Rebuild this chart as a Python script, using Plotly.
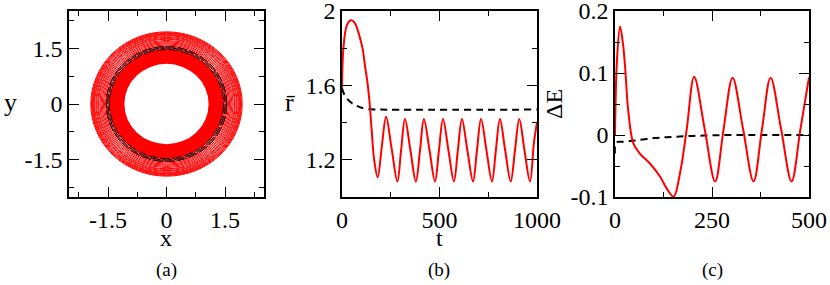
import plotly.graph_objects as go

# ---- panel (a): trajectory in the x-y plane, drawn as rings (radii)
band_inner_r = 1.08
band_outer_r = 1.46
red_ring_r = [1.47, 1.50, 1.53, 1.56, 1.59, 1.62, 1.65, 1.68, 1.71, 1.74,
              1.76, 1.79, 1.81, 1.84, 1.86, 1.88, 1.90, 1.92, 1.94]
black_ring_r = [1.465, 1.505, 1.545]
xy_ticks = [-1.5, 0, 1.5]
xy_ticktext = ['-1.5', '0', '1.5']
xy_minor = [-2.25, -0.75, 0.75, 2.25]

# ---- panel (b): mean radius vs t
t_b = [0, 7, 24, 45, 66, 84, 106, 118, 130, 140, 152, 165, 183, 204, 226, 255,
       284, 303, 323, 351, 379, 400, 420, 449, 477, 497, 518, 546, 574, 594,
       615, 643, 672, 692, 713, 741, 769, 789, 810, 837, 865, 887, 909, 936,
       964, 985, 1000]
r_b = [1.588, 1.795, 1.92, 1.95, 1.935, 1.885, 1.795, 1.704, 1.62, 1.524, 1.362,
       1.20, 1.106, 1.27, 1.432, 1.257, 1.083, 1.25, 1.42, 1.25, 1.083, 1.25,
       1.42, 1.25, 1.083, 1.25, 1.42, 1.25, 1.083, 1.25, 1.42, 1.25, 1.083,
       1.25, 1.42, 1.25, 1.083, 1.25, 1.42, 1.25, 1.083, 1.25, 1.42, 1.25,
       1.083, 1.30, 1.40]
t_b_ref = [0, 10, 25, 50, 75, 100, 150, 200, 1000]
r_b_ref = [1.585, 1.555, 1.53, 1.505, 1.49, 1.48, 1.472, 1.47, 1.47]
b_xticks = [0, 500, 1000]
b_xminor = [250, 750]
b_yticks = [1.2, 1.6, 2.0]
b_yticktext = ['1.2', '1.6', '2']
b_yminor = [1.0, 1.4, 1.8]

# ---- panel (c): energy difference vs t
t_c = [0, 5, 13, 20, 26, 34, 47, 64, 90, 116, 133, 151, 168, 185, 204, 231,
       258, 280, 303, 330, 357, 379, 401, 428, 455, 478, 500]
e_c = [0.0, 0.12, 0.175, 0.15, 0.11, 0.04, -0.013, -0.03, -0.046, -0.067,
       -0.086, -0.0995, -0.06, 0.01, 0.094, 0.01, -0.075, 0.01, 0.0925, 0.01,
       -0.075, 0.01, 0.0925, 0.01, -0.075, 0.01, 0.093]
t_c_ref = [0, 3, 20, 50, 100, 150, 200, 250, 300, 500]
e_c_ref = [-0.03, -0.012, -0.011, -0.009, -0.005, -0.003, -0.0015, -0.0005, 0, 0]
c_xticks = [0, 250, 500]
c_xminor = [125, 375]
c_yticks = [-0.1, 0, 0.1, 0.2]
c_yticktext = ['-0.1', '0', '0.1', '0.2']
c_yminor = [-0.05, 0.05, 0.15]

W, H = 830, 285
FONT = 'Liberation Serif, Times New Roman, Times, serif'


def px_x(x):
    return x / W


def px_y(y):
    return 1 - y / H


def axis(domain, rng, tickvals, ticktext, minorvals):
    return dict(domain=domain, range=rng, tickmode='array', tickvals=tickvals,
                ticktext=ticktext, ticks='inside', ticklen=10, tickwidth=1.3,
                tickcolor='black', showline=True, linecolor='black', linewidth=1.5,
                mirror='allticks', showgrid=False, zeroline=False,
                automargin=False, ticklabeloverflow='allow',
                tickfont=dict(family=FONT, size=24, color='black'),
                minor=dict(tickmode='array', tickvals=minorvals, ticks='inside',
                           ticklen=5, tickwidth=1.3, tickcolor='black', showgrid=False))


fig = go.Figure()

# invisible trace so panel (a) axes are drawn
fig.add_trace(go.Scatter(x=[0], y=[0], mode='markers', marker=dict(opacity=0),
                         xaxis='x', yaxis='y', showlegend=False, hoverinfo='skip'))

red = 'rgb(255,0,0)'
for r in red_ring_r:
    fig.add_shape(type='circle', xref='x', yref='y', x0=-r, y0=-r, x1=r, y1=r,
                  line=dict(color=red, width=1.0))
fig.add_shape(type='circle', xref='x', yref='y', x0=-band_outer_r, y0=-band_outer_r,
              x1=band_outer_r, y1=band_outer_r, fillcolor=red, line=dict(color=red, width=1))
fig.add_shape(type='circle', xref='x', yref='y', x0=-band_inner_r, y0=-band_inner_r,
              x1=band_inner_r, y1=band_inner_r, fillcolor='white', line=dict(color='white', width=0))
for r in black_ring_r:
    fig.add_shape(type='circle', xref='x', yref='y', x0=-r, y0=-r, x1=r, y1=r,
                  line=dict(color='black', width=1, dash='10px,2px'))

dash = '7px,5px'
fig.add_trace(go.Scatter(x=t_b_ref, y=r_b_ref, mode='lines', line=dict(color='black', width=2, dash=dash, shape='spline'),
                         xaxis='x2', yaxis='y2', showlegend=False))
fig.add_trace(go.Scatter(x=t_b, y=r_b, mode='lines', line=dict(color=red, width=2, shape='spline'),
                         xaxis='x2', yaxis='y2', showlegend=False))
fig.add_trace(go.Scatter(x=t_c_ref, y=e_c_ref, mode='lines', line=dict(color='black', width=2, dash=dash, shape='spline'),
                         xaxis='x3', yaxis='y3', showlegend=False))
fig.add_trace(go.Scatter(x=t_c, y=e_c, mode='lines', line=dict(color=red, width=2, shape='spline'),
                         xaxis='x3', yaxis='y3', showlegend=False))

ydom = [px_y(197), px_y(11)]
fig.update_layout(
    width=W, height=H, autosize=False, margin=dict(l=0, r=0, t=0, b=0, autoexpand=False),
    plot_bgcolor='white', paper_bgcolor='white', font=dict(family=FONT),
    xaxis=axis([px_x(69), px_x(264)], [-2.5, 2.5], xy_ticks, xy_ticktext, xy_minor),
    yaxis=dict(axis(ydom, [-2.5, 2.5], xy_ticks, xy_ticktext, xy_minor), anchor='x'),
    xaxis2=dict(axis([px_x(342), px_x(537)], [0, 1000], b_xticks, [str(v) for v in b_xticks], b_xminor), anchor='y2'),
    yaxis2=dict(axis(ydom, [1.0, 2.0], b_yticks, b_yticktext, b_yminor), anchor='x2'),
    xaxis3=dict(axis([px_x(615), px_x(809)], [0, 500], c_xticks, [str(v) for v in c_xticks], c_xminor), anchor='y3'),
    yaxis3=dict(axis(ydom, [-0.1, 0.2], c_yticks, c_yticktext, c_yminor), anchor='x3'),
)
fig.layout.xaxis.anchor = 'y'

labels = [
    ('x', 166, 238, 24, 0), ('y', 10, 102, 26, 0),
    ('t', 439, 238, 24, 0), ('r\u0304', 290, 102, 26, 0),
    ('\u0394E', 554, 104, 24, -90),
    ('(a)', 166, 270, 19, 0), ('(b)', 439, 270, 19, 0), ('(c)', 712, 270, 19, 0),
]
for text, x, y, size, ang in labels:
    fig.add_annotation(text=text, x=px_x(x), y=px_y(y), xref='paper', yref='paper',
                       showarrow=False, textangle=ang, xanchor='center', yanchor='middle',
                       font=dict(family=FONT, size=size, color='black'))

# drop the browser's default 8px body margin so the figure sits at the page corner
fig.write_html('out.html', config={'displayModeBar': False},
               post_script="document.body.style.margin='0px';")
